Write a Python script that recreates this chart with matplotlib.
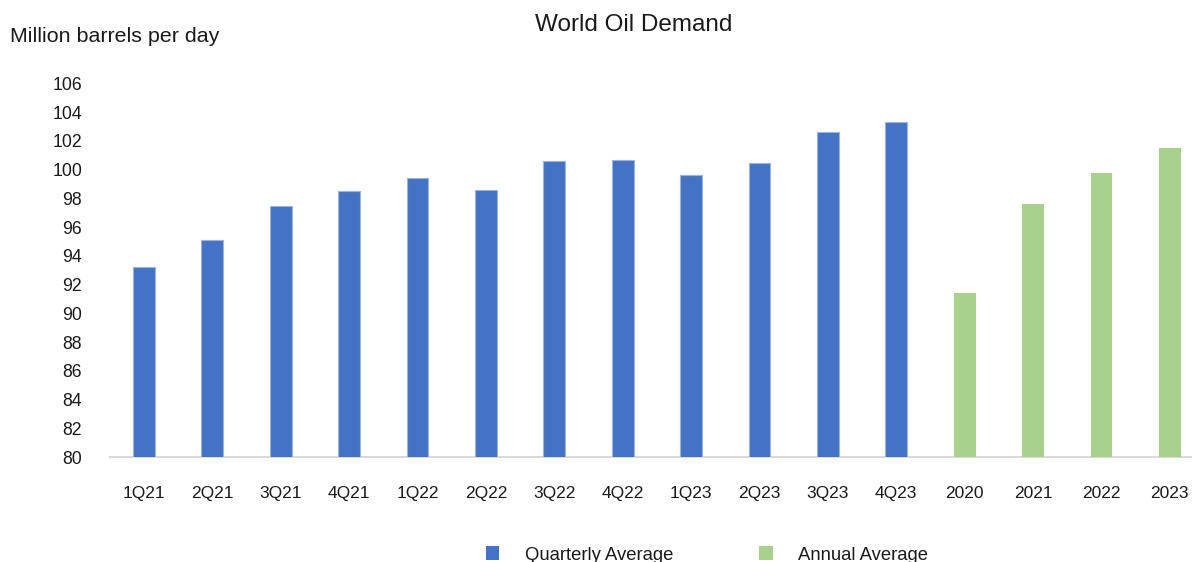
import matplotlib
matplotlib.use("Agg")
import matplotlib.pyplot as plt
from matplotlib.patches import Patch

plt.rcParams['font.family'] = ['Liberation Sans', 'DejaVu Sans']

# Quarterly world oil demand (million barrels per day)
quarters = ["1Q21", "2Q21", "3Q21", "4Q21", "1Q22", "2Q22", "3Q22", "4Q22",
            "1Q23", "2Q23", "3Q23", "4Q23"]
quarterly_values = [93.2, 95.1, 97.5, 98.5, 99.4, 98.6, 100.6, 100.7,
                    99.6, 100.5, 102.6, 103.3]

# Annual averages
years = ["2020", "2021", "2022", "2023"]
annual_values = [91.4, 97.6, 99.8, 101.5]

y_ticks = list(range(80, 107, 2))

blue = "#4472C4"
green = "#A9D18E"
text_color = "#1a1a1a"

fig = plt.figure(figsize=(11.92, 5.62), dpi=100)
ax = fig.add_axes([0.0921, 0.1868, 0.918, 0.6646])

labels = quarters + years
q_pos = list(range(len(quarters)))
a_pos = list(range(len(quarters), len(labels)))
width = 0.32

ax.bar(q_pos, quarterly_values, width=width, color=blue,
       edgecolor="#9DB4E0", linewidth=0.8, label="Quarterly Average")
ax.bar(a_pos, annual_values, width=width, color=green,
       linewidth=0, label="Annual Average")

ax.set_xlim(-0.5, len(labels) - 0.5)
ax.set_ylim(80, 106)
ax.set_yticks(y_ticks)
ax.set_xticks(range(len(labels)))
ax.set_xticklabels(labels)

for s in ("top", "right", "left"):
    ax.spines[s].set_visible(False)
ax.spines["bottom"].set_color("#D9D9D9")
ax.spines["bottom"].set_linewidth(1.4)
ax.spines["bottom"].set_zorder(0)

ax.tick_params(axis="y", length=0, pad=20, labelsize=12.7, labelcolor=text_color)
ax.tick_params(axis="x", length=0, pad=21, labelsize=12.5, labelcolor=text_color)

fig.text(0.532, 1 - 25 / 562, "World Oil Demand", ha="center", va="center",
         fontsize=17.5, color=text_color)
fig.text(10 / 1192, 1 - 37 / 562, "Million barrels per day", ha="left",
         va="center", fontsize=15.4, color=text_color)

handles = [Patch(facecolor=blue, edgecolor="none", label="Quarterly Average"),
           Patch(facecolor=green, edgecolor="none", label="Annual Average")]
fig.legend(handles=handles, loc="center", bbox_to_anchor=(707 / 1192, 1 - 555 / 562),
           ncol=2, frameon=False, fontsize=13.3, handlelength=0.75,
           handleheight=0.75, handletextpad=1.4, columnspacing=4.6,
           labelcolor=text_color)

fig.savefig("out.png", dpi=100)
